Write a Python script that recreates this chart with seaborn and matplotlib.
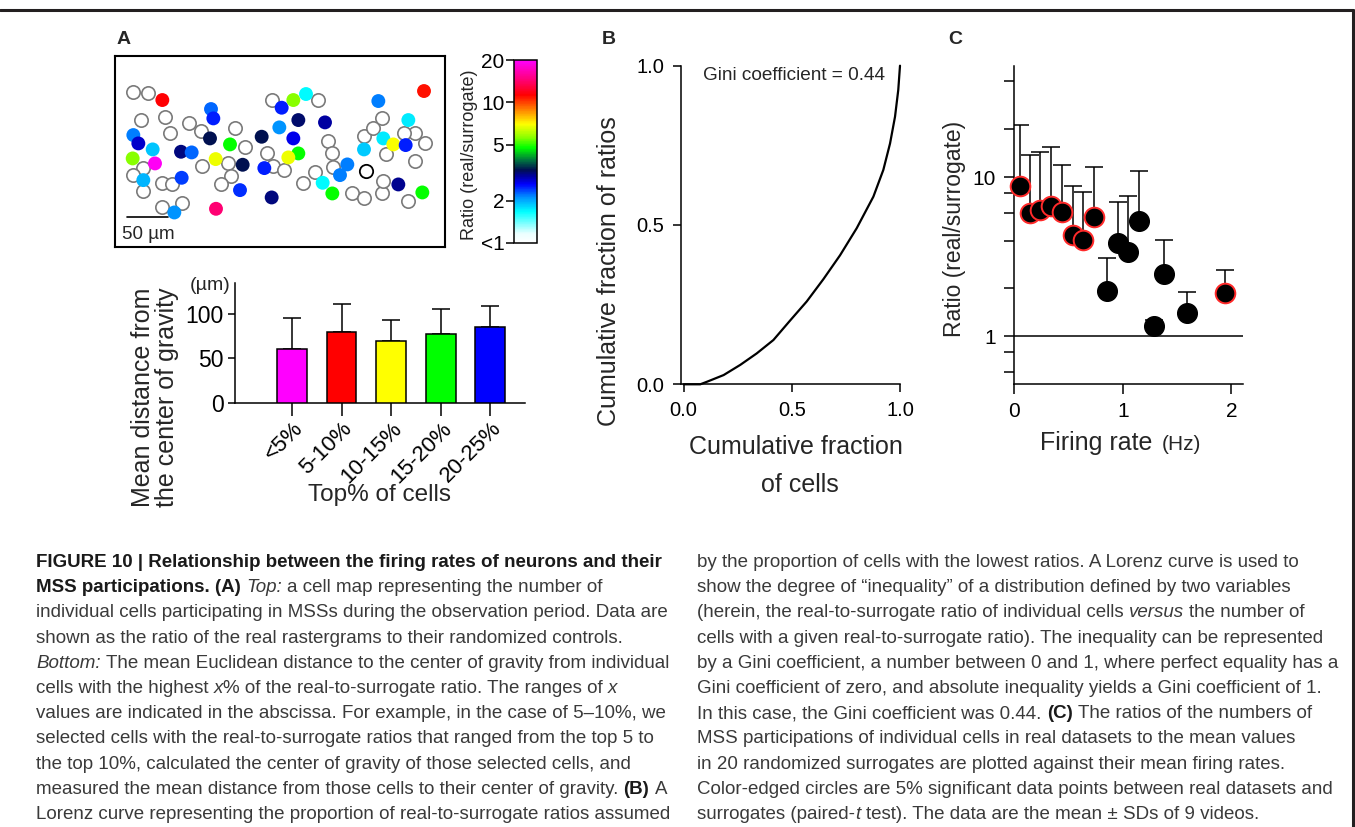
import matplotlib
matplotlib.use("Agg")
import numpy as np
import pandas as pd
import matplotlib.pyplot as plt
import seaborn as sns
from matplotlib.colors import LinearSegmentedColormap, LogNorm
from matplotlib.lines import Line2D
from matplotlib.transforms import IdentityTransform
from matplotlib import font_manager
from matplotlib.cm import ScalarMappable

# ---------------------------------------------------------------- data
# cell map (positions in um); open cells have ratio < 1
open_x = [22.0, 40.0, 30.8, 60.0, 66.0, 89.2, 102.8, 144.0, 156.0, 34.0, 22.0,
          34.0, 56.8, 68.8, 104.0, 136.0, 138.8, 126.8, 56.8, 80.0, 182.0, 190.0,
          202.8, 188.0, 244.0, 255.2, 260.0, 261.2, 240.0, 226.0, 284.0, 298.8,
          320.0, 322.0, 351.2, 360.0, 372.0, 360.0, 347.2, 298.8, 310.0, 320.0, 325.2]
open_y = [42.8, 44.0, 76.8, 73.6, 92.8, 80.0, 90.0, 86.0, 109.6, 134.0, 142.8,
          162.0, 152.8, 153.6, 132.0, 128.8, 143.6, 154.0, 180.8, 176.0, 116.8, 132.0,
          136.8, 52.8, 52.8, 101.6, 116.8, 132.8, 139.6, 152.0, 164.0, 170.0,
          164.8, 149.6, 174.0, 126.0, 104.8, 92.8, 92.8, 96.0, 86.0, 74.8, 117.6]
marked_x = [301.2]
marked_y = [137.6]

cell_x = [56.8, 370.8, 115.2, 118.0, 22.0, 28.0, 45.2, 21.2, 48.0, 34.0, 79.2,
          92.0, 114.0, 138.0, 120.8, 153.2, 80.0, 150.0, 121.2, 71.2, 176.0, 200.0,
          214.0, 229.2, 197.2, 220.0, 214.0, 220.0, 208.0, 179.2, 188.0, 252.0,
          278.8, 270.0, 249.2, 260.8, 316.0, 298.8, 322.0, 334.0, 348.8, 352.0,
          340.0, 368.8]
cell_y = [52.8, 42.0, 63.6, 74.8, 94.8, 104.8, 112.0, 122.8, 128.8, 148.8, 114.8,
          115.6, 98.8, 106.0, 123.6, 130.4, 146.0, 160.8, 183.2, 187.6, 96.8, 62.0,
          52.8, 45.6, 85.6, 76.8, 98.8, 116.8, 121.6, 134.4, 169.6, 79.6,
          130.0, 142.8, 152.0, 164.8, 54.0, 112.0, 98.8, 106.0, 106.8, 76.8,
          154.0, 163.6]
cell_ratio = [11.3, 11.0, 2.25, 2.5, 2.18, 2.81, 1.90, 5.6, 19.5, 1.96, 3.12,
              2.25, 3.31, 4.75, 6.8, 3.31, 2.38, 2.46, 14.4, 2.11, 3.31, 2.5,
              5.6, 1.69, 2.11, 3.22, 2.69, 4.75, 6.8, 2.5, 3.12, 2.99,
              2.18, 2.18, 1.69, 4.75, 2.18, 1.88, 1.74, 6.9, 2.5, 1.74,
              3.07, 4.75]

cbar_ticks = [1, 2, 5, 10, 20]
cbar_labels = ["<1", "2", "5", "10", "20"]

# distance to centre of gravity
groups = ["<5%", "5-10%", "10-15%", "15-20%", "20-25%"]
dist_mean = [61.0, 80.0, 70.0, 78.0, 85.5]
dist_sd = [34.7, 32.0, 24.0, 27.5, 23.5]
group_colors = ["#ff00ff", "#ff0000", "#ffff00", "#00ff00", "#0000ff"]

# Lorenz curve
lorenz_x = [0.0, 0.077, 0.108, 0.185, 0.262, 0.338, 0.415, 0.492, 0.569, 0.646,
            0.723, 0.800, 0.877, 0.923, 0.954, 0.977, 0.992, 1.0]
lorenz_y = [0.0, 0.0, 0.008, 0.029, 0.061, 0.097, 0.139, 0.200, 0.260, 0.330,
            0.405, 0.490, 0.589, 0.673, 0.756, 0.840, 0.924, 1.0]
gini = 0.44

# ratio vs firing rate
rate_hz = [0.055, 0.147, 0.238, 0.336, 0.443, 0.543, 0.632, 0.739, 0.855, 0.956,
           1.047, 1.154, 1.289, 1.383, 1.588, 1.939]
ratio_mean = [8.78, 5.94, 6.26, 6.57, 6.03, 4.34, 4.06, 5.66, 1.94, 3.86,
              3.38, 5.34, 1.16, 2.47, 1.40, 1.87]
ratio_sd = [12.5, 7.76, 8.14, 8.83, 5.97, 4.53, 3.99, 5.94, 1.17, 3.10,
            4.22, 5.66, 0.10, 1.59, 0.49, 0.74]
significant = [True, True, True, True, True, True, True, True, False, False,
               False, False, False, False, False, True]

caption_left = [
    [("FIGURE 10 | Relationship between the firing rates of neurons and their", "b")],
    [("MSS participations. (A) ", "b"), ("Top:", "i"), (" a cell map representing the number of", "n")],
    [("individual cells participating in MSSs during the observation period. Data are", "n")],
    [("shown as the ratio of the real rastergrams to their randomized controls.", "n")],
    [("Bottom:", "i"), (" The mean Euclidean distance to the center of gravity from individual", "n")],
    [("cells with the highest ", "n"), ("x", "i"), ("% of the real-to-surrogate ratio. The ranges of ", "n"), ("x", "i")],
    [("values are indicated in the abscissa. For example, in the case of 5\u201310%, we", "n")],
    [("selected cells with the real-to-surrogate ratios that ranged from the top 5 to", "n")],
    [("the top 10%, calculated the center of gravity of those selected cells, and", "n")],
    [("measured the mean distance from those cells to their center of gravity. ", "n"), ("(B)", "b"), (" A", "n")],
    [("Lorenz curve representing the proportion of real-to-surrogate ratios assumed", "n")],
]
caption_right = [
    [("by the proportion of cells with the lowest ratios. A Lorenz curve is used to", "n")],
    [("show the degree of \u201cinequality\u201d of a distribution defined by two variables", "n")],
    [("(herein, the real-to-surrogate ratio of individual cells ", "n"), ("versus", "i"), (" the number of", "n")],
    [("cells with a given real-to-surrogate ratio). The inequality can be represented", "n")],
    [("by a Gini coefficient, a number between 0 and 1, where perfect equality has a", "n")],
    [("Gini coefficient of zero, and absolute inequality yields a Gini coefficient of 1.", "n")],
    [("In this case, the Gini coefficient was 0.44. ", "n"), ("(C)", "b"), (" The ratios of the numbers of", "n")],
    [("MSS participations of individual cells in real datasets to the mean values", "n")],
    [("in 20 randomized surrogates are plotted against their mean firing rates.", "n")],
    [("Color-edged circles are 5% significant data points between real datasets and", "n")],
    [("surrogates (paired-", "n"), ("t", "i"), (" test). The data are the mean \u00b1 SDs of 9 videos.", "n")],
]

# ---------------------------------------------------------------- style
W, H = 1355, 827
sns.set_style("ticks")
plt.rcParams["font.family"] = ["Liberation Sans", "DejaVu Sans"]
plt.rcParams["axes.linewidth"] = 1.1
plt.rcParams["xtick.major.width"] = 1.1
plt.rcParams["ytick.major.width"] = 1.1
plt.rcParams["ytick.minor.width"] = 1.1
plt.rcParams["xtick.color"] = "black"
plt.rcParams["ytick.color"] = "black"
plt.rcParams["axes.edgecolor"] = "black"

fig = plt.figure(figsize=(W / 100, H / 100), dpi=100)


def box(left, top, right, bottom):
    return [left / W, 1 - bottom / H, (right - left) / W, (bottom - top) / H]


def ftext(x, y, s, **kw):
    return fig.text(x / W, 1 - y / H, s, **kw)


ratio_cmap = LinearSegmentedColormap.from_list("ratio_map", [
    (0.0, "#ffffff"), (0.05, "#eaffff"), (0.17, "#00ffff"), (0.25, "#0090ff"),
    (0.32, "#0000ff"), (0.365, "#0000a0"), (0.40, "#001050"), (0.45, "#007040"),
    (0.52, "#00ff00"), (0.58, "#90ff00"), (0.65, "#ffff00"), (0.73, "#ff8000"),
    (0.81, "#ff0000"), (0.90, "#ff0080"), (1.0, "#ff00ff")])
ratio_norm = LogNorm(vmin=1, vmax=20)

# ---------------------------------------------------------------- A: cell map
ax_map = fig.add_axes(box(115, 56, 445, 247))
cells_open = pd.DataFrame({"x": open_x, "y": open_y})
cells = pd.DataFrame({"x": cell_x, "y": cell_y, "ratio": cell_ratio})
sns.scatterplot(data=cells_open, x="x", y="y", s=92, facecolor="white",
                edgecolor="#7a7a7a", linewidth=1.2, ax=ax_map, zorder=2)
sns.scatterplot(x=marked_x, y=marked_y, s=92, facecolor="white",
                edgecolor="black", linewidth=1.3, ax=ax_map, zorder=2)
sns.scatterplot(data=cells, x="x", y="y", hue="ratio", palette=ratio_cmap,
                hue_norm=ratio_norm, s=100, linewidth=0, legend=False,
                ax=ax_map, zorder=3)
ax_map.set_xlim(0, 396)
ax_map.set_ylim(229, 0)
ax_map.set_xticks([])
ax_map.set_yticks([])
ax_map.set_xlabel("")
ax_map.set_ylabel("")
for sp in ax_map.spines.values():
    sp.set_linewidth(1.5)
ax_map.plot([14, 64], [192.8, 192.8], color="black", lw=1.2)
ax_map.text(9, 214, "50 \u00b5m", fontsize=13.5, va="center", ha="left")

# colour bar
cax = fig.add_axes(box(514, 60, 537, 243))
cb = fig.colorbar(ScalarMappable(norm=ratio_norm, cmap=ratio_cmap), cax=cax)
cb.set_ticks(cbar_ticks)
cb.set_ticklabels(cbar_labels)
cax.minorticks_off()
cax.yaxis.set_ticks_position("left")
cax.yaxis.set_label_position("left")
cax.tick_params(axis="y", labelsize=15, length=6, width=1.1, pad=1)
cb.outline.set_linewidth(1.1)
ftext(470, 155, "Ratio (real/surrogate)", rotation=90, fontsize=13,
      ha="center", va="center")

# ---------------------------------------------------------------- A: bars
ax_bar = fig.add_axes(box(235, 283.3, 525, 402.7))
sns.barplot(x=groups, y=dist_mean, hue=groups, palette=group_colors,
            saturation=1, legend=False, width=0.6, edgecolor="black",
            linewidth=1.1, ax=ax_bar, zorder=3)
ax_bar.errorbar(np.arange(len(groups)), dist_mean,
                yerr=[np.zeros(len(groups)), dist_sd], fmt="none",
                ecolor="black", elinewidth=1.1, capsize=6.5, capthick=1.1,
                zorder=2)
ax_bar.set_xlim(-1.15, 4.7)
ax_bar.set_ylim(0, 135)
ax_bar.set_yticks([0, 50, 100])
sns.despine(ax=ax_bar)
ax_bar.tick_params(axis="y", labelsize=16.5, length=5, pad=3)
ax_bar.tick_params(axis="x", labelsize=16, length=9, pad=2)
for lab in ax_bar.get_xticklabels():
    lab.set_rotation(45)
    lab.set_ha("right")
    lab.set_va("top")
    lab.set_rotation_mode("anchor")
ax_bar.set_xlabel("")
ax_bar.set_ylabel("")
ftext(155, 397, "Mean distance from\nthe center of gravity", rotation=90,
      fontsize=18, ha="center", va="center", linespacing=0.95)
ftext(380, 495, "Top% of cells", fontsize=17.5, ha="center", va="center")
ftext(210, 285, "(\u00b5m)", fontsize=14, ha="center", va="center")

# ---------------------------------------------------------------- B: Lorenz
ax_b = fig.add_axes(box(681, 65.7, 900, 384.3))
sns.lineplot(x=lorenz_x, y=lorenz_y, color="black", lw=1.6, ax=ax_b,
             errorbar=None, clip_on=False)
ax_b.set_xlim(-0.012, 1.0)
ax_b.set_ylim(0, 1)
ax_b.set_xticks([0, 0.5, 1.0])
ax_b.set_yticks([0, 0.5, 1.0])
ax_b.set_xticklabels(["0.0", "0.5", "1.0"])
ax_b.set_yticklabels(["0.0", "0.5", "1.0"])
sns.despine(ax=ax_b)
ax_b.tick_params(labelsize=14.5, length=6, pad=6)
ax_b.text(0.09, 0.97, f"Gini coefficient = {gini:.2f}", fontsize=13.7,
          ha="left", va="center", transform=ax_b.transData)
ftext(609, 271, "Cumulative fraction of ratios", rotation=90, fontsize=18,
      ha="center", va="center")
ftext(796, 447, "Cumulative fraction", fontsize=18, ha="center", va="center")
ftext(800, 485, "of cells", fontsize=18, ha="center", va="center")

# ---------------------------------------------------------------- C: ratio
ax_c = fig.add_axes(box(1014, 66, 1243, 384.3))
rates = pd.DataFrame({"rate": rate_hz, "ratio": ratio_mean, "sd": ratio_sd,
                      "sig": significant})
ax_c.axhline(1, color="black", lw=1.1, zorder=1)
ax_c.errorbar(rates["rate"], rates["ratio"],
              yerr=[np.zeros(len(rates)), rates["sd"]], fmt="none",
              ecolor="black", elinewidth=1.1, capsize=6.5, capthick=1.1,
              zorder=2)
sns.scatterplot(data=rates[~rates["sig"]], x="rate", y="ratio", s=200,
                color="black", edgecolor="black", linewidth=1.0, ax=ax_c,
                zorder=3, clip_on=False)
sns.scatterplot(data=rates[rates["sig"]], x="rate", y="ratio", s=200,
                color="black", edgecolor="#ff2a2a", linewidth=1.4, ax=ax_c,
                zorder=4, clip_on=False)
ax_c.set_yscale("log")
ax_c.set_xlim(0, 2.106)
ax_c.set_ylim(0.5, 50)
ax_c.set_xticks([0, 1, 2])
ax_c.set_yticks([1, 10])
ax_c.set_yticklabels(["1", "10"])
ax_c.set_yticks([0.6, 0.8, 2, 4, 6, 8, 20, 40], minor=True)
ax_c.yaxis.set_minor_formatter(plt.NullFormatter())
sns.despine(ax=ax_c)
ax_c.tick_params(axis="both", which="major", labelsize=15, length=7, pad=6)
ax_c.tick_params(axis="y", which="minor", length=7, width=1.1)
ax_c.set_xlabel("")
ax_c.set_ylabel("")
ftext(955, 229, "Ratio (real/surrogate)", rotation=90, fontsize=16.5,
      ha="center", va="center")
ftext(1096, 443, "Firing rate", fontsize=18, ha="center", va="center")
ftext(1162, 445, "(Hz)", fontsize=15, ha="left", va="center")

# panel letters
for letter, (px, py) in {"A": (124, 39), "B": (609, 39), "C": (955, 39)}.items():
    ftext(px, py, letter, fontsize=14, fontweight="bold", ha="center", va="center")

# page frame
fig.add_artist(Line2D([0, 1353 / W], [1 - 10 / H, 1 - 10 / H], color="#231f20",
                      lw=2.2, transform=fig.transFigure))
fig.add_artist(Line2D([1353 / W, 1353 / W], [1 - 10 / H, 0], color="#231f20",
                      lw=2.2, transform=fig.transFigure))

# ---------------------------------------------------------------- caption


def has_font(name):
    try:
        font_manager.findfont(font_manager.FontProperties(family=name),
                              fallback_to_default=False)
        return True
    except Exception:
        return False


cap_family = "Liberation Sans Narrow" if has_font("Liberation Sans Narrow") else "Liberation Sans"
renderer = fig.canvas.get_renderer()
ident = IdentityTransform()


def run_style(kind, fs):
    base = dict(fontsize=fs, family=[cap_family, "DejaVu Sans"], color="#3a3a3a")
    if kind == "b":
        base.update(fontweight="bold", color="#1a1a1a")
    elif kind == "i":
        base.update(fontstyle="italic")
    return base


def text_width(s, **kw):
    t = fig.text(0, 0, s, transform=ident, **kw)
    w = t.get_window_extent(renderer).width
    t.remove()
    return w


ref_line = caption_right[4][0][0]
cap_fs = 10 * 643 / text_width(ref_line, **run_style("n", 10))


def draw_line(x0, y, runs):
    x = x0
    for s, kind in runs:
        st = run_style(kind, cap_fs)
        space = text_width("a a", **st) - text_width("aa", **st)
        core = s.strip(" ")
        lead = len(s) - len(s.lstrip(" "))
        trail = len(s) - len(s.rstrip(" "))
        x += lead * space
        fig.text(x, H - y, core, transform=ident, ha="left", va="baseline", **st)
        x += text_width(core, **st) + trail * space


for i, runs in enumerate(caption_left):
    draw_line(36, 567 + 25.2 * i, runs)
for i, runs in enumerate(caption_right):
    draw_line(697, 567 + 25.2 * i, runs)

fig.savefig("out.png", dpi=100)
